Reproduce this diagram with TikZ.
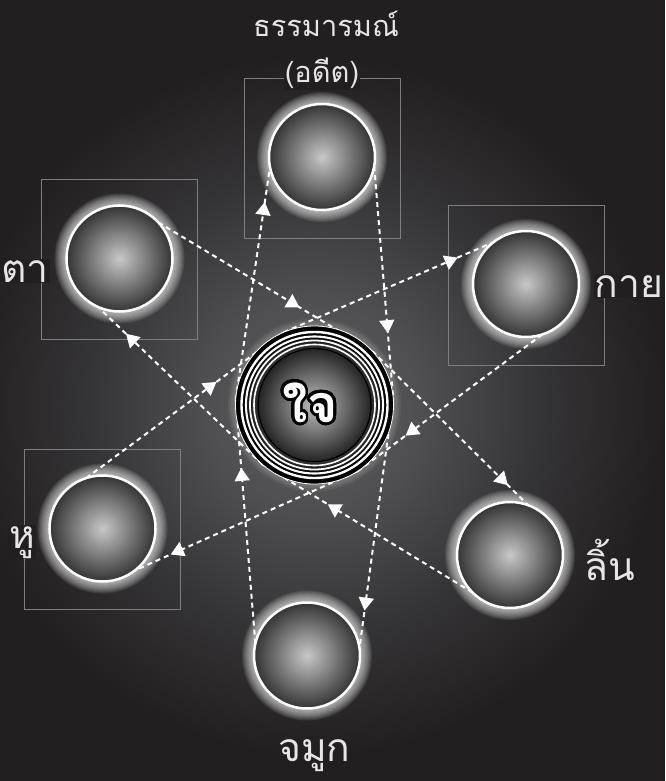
\documentclass[tikz,border=0pt]{standalone}
\usepackage{fontspec}
\usepackage{xcolor}
\usepackage[copies]{contour}
\usepackage{tikz}
\usetikzlibrary{arrows.meta, calc, decorations.markings, backgrounds}
\newfontfamily\thaifont[Script=Thai]{Loma}

\definecolor{bg}{HTML}{231F20}
\definecolor{hazein}{HTML}{606062}
\definecolor{hazemid}{HTML}{4E4E50}
\definecolor{hazeout}{HTML}{353436}
\definecolor{orbin}{HTML}{C8C8C8}
\definecolor{orbout}{HTML}{343434}
\definecolor{corein}{HTML}{C0C0C0}
\definecolor{coreout}{HTML}{242424}
\definecolor{framec}{HTML}{7E7E7E}
\definecolor{labelc}{HTML}{E6E6E6}

\pgfdeclareradialshading{haze}{\pgfpoint{0bp}{0bp}}{color(0bp)=(hazein); color(8bp)=(hazemid); color(16bp)=(hazeout); color(25bp)=(bg); color(50bp)=(bg)}
\pgfdeclareradialshading{orb}{\pgfpoint{0bp}{0bp}}{color(0bp)=(orbin); color(25bp)=(orbout); color(50bp)=(orbout)}
\pgfdeclareradialshading{core}{\pgfpoint{0bp}{0bp}}{color(0bp)=(corein); color(25bp)=(coreout); color(50bp)=(coreout)}

\contourlength{2.8pt}
\contournumber{32}

\begin{document}
\begin{tikzpicture}[x=1pt, y=-1pt,
  orb/.style={circle, minimum size=106pt, inner sep=0pt, outer sep=0pt, draw=white, line width=2.5pt, shade, shading=orb},
  frame/.style={draw=framec, line width=0.8pt},
  flow/.style={draw=white, line width=2pt, dash pattern=on 5pt off 4pt,
    decoration={markings, mark=at position #1 with {\arrow[white]{Triangle[width=15pt,length=13pt]}}},
    postaction={decorate}},
  lbl/.style={font=\thaifont\fontsize{39}{39}\selectfont, text=labelc, inner sep=1pt, anchor=base}]
  \useasboundingbox (0,0) rectangle (665,781);

  % Sense spheres
  \node[orb] (dhamma) at (322,157) {};
  \node[orb] (ta) at (119.5,258.5) {};
  \node[orb] (kai) at (526,284) {};
  \node[orb] (hu) at (102.5,528.5) {};
  \node[orb] (lin) at (510,555) {};
  \node[orb] (jamuk) at (307,655.5) {};

  % Mind in the middle
  \node[circle, minimum size=158pt, inner sep=0pt, outer sep=0pt, fill=black, draw=white, line width=0.8pt] (jai) at (314.5,405) {};
  \fill[black!80!gray] (jai) circle (66.5);
  \fill[black!65!gray] (jai) circle (62.5);
  \foreach \r/\w in {73/2.4, 68.5/2.1, 64.5/1.8, 60.5/1.6} {
    \draw[white, line width=\w pt] (jai) circle (\r);
  }
  \shade[shading=core] (jai) circle (56.5);
  \draw[black, line width=1.2pt] (jai) circle (56.5);
  \node[font=\thaifont\bfseries\fontsize{52}{52}\selectfont, text=white] (jaitext) at (310,404) {\contour{black}{ใจ}};

  % Labels
  \node[lbl, font=\thaifont\fontsize{29}{29}\selectfont] (dhammatext) at (326,37) {ธรรมารมณ์};
  \node[lbl, font=\thaifont\fontsize{29}{29}\selectfont, fill=bg] (pasttext) at (322,83) {(อดีต)};
  \node[lbl, fill=bg] (tatext) at (25,282) {ตา};
  \node[lbl, fill=bg] (kaitext) at (629,297) {กาย};
  \node[lbl, fill=bg] (hutext) at (22,548) {หู};
  \node[lbl] (lintext) at (610,580) {ลิ้น};
  \node[lbl] (jamuktext) at (314.5,761) {จมูก};

  \begin{scope}[on background layer]
    % Backdrop and glow
    \fill[bg] (0,0) rectangle (665,781);
    \shade[shading=haze] (jai) circle (350);

    % Frames
    \foreach \n in {dhamma,ta,kai,hu} {
      \draw[frame] ($(\n)+(-78,-79)$) rectangle ($(\n)+(78,81)$);
    }

    % Halos
    \foreach \n in {dhamma,ta,kai,hu,lin,jamuk} {
      \foreach \g in {1,...,10} {
        \fill[white, opacity=0.085] (\n) circle ({54+1.1*\g});
      }
    }
    \foreach \g in {1,...,5} {
      \fill[white, opacity=0.05] (jai) circle ({79+1.5*\g});
    }

    % Flows
    \draw[flow=0.72] (dhamma.-10) -- (jai.5);
    \draw[flow=0.85] (jai.5) -- (jamuk.8);
    \draw[flow=0.72] (jamuk.167) -- (jai.176);
    \draw[flow=0.85] (jai.176) -- (dhamma.191);
    \draw[flow=0.66] (ta.43) -- (jai.43);
    \draw[flow=0.87] (jai.43) -- (lin.70);
    \draw[flow=0.69] (lin.225) -- (jai.229);
    \draw[flow=0.83] (jai.229) -- (ta.246);
    \draw[flow=0.66] (hu.108) -- (jai.113);
    \draw[flow=0.83] (jai.113) -- (kai.128);
    \draw[flow=0.74] (kai.-72) -- (jai.303);
    \draw[flow=0.84] (jai.303) -- (hu.-52);
  \end{scope}
\end{tikzpicture}
\end{document}
